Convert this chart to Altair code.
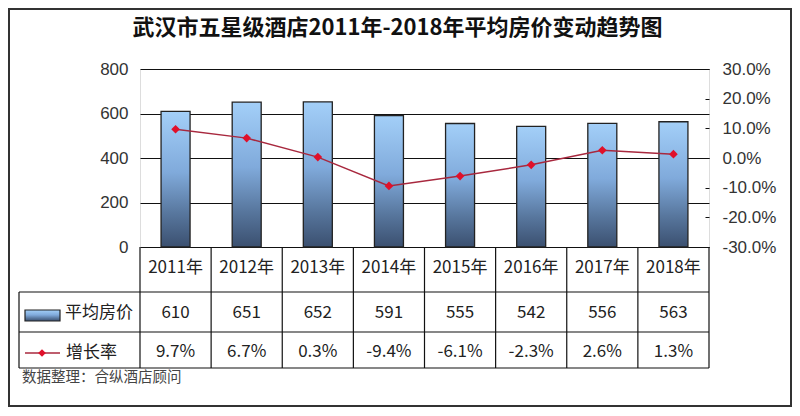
import altair as alt
import pandas as pd

years = ["2011年", "2012年", "2013年", "2014年", "2015年", "2016年", "2017年", "2018年"]
prices = [610, 651, 652, 591, 555, 542, 556, 563]
rates = [0.097, 0.067, 0.003, -0.094, -0.061, -0.023, 0.026, 0.013]
price_ticks = [0, 200, 400, 600, 800]
rate_ticks = [-0.3, -0.2, -0.1, 0.0, 0.1, 0.2, 0.3]
title_text = "武汉市五星级酒店2011年-2018年平均房价变动趋势图"
source_text = "数据整理：合纵酒店顾问"
legend_price = "平均房价"
legend_rate = "增长率"

df = pd.DataFrame({"year": years, "price": prices, "rate": rates})
one = pd.DataFrame({"k": [0]})

W, H = 569, 178
FONT_CJK = "Noto Sans CJK SC"
FONT_NUM = "Liberation Sans"
LINE_COLOR = "#a8283e"
PT_COLOR = "#e0102a"
GRID = "#111111"
MINUS_FIX = "replace(datum.label, '\u2212', '-')"

grad = alt.Gradient(
    gradient="linear",
    stops=[
        alt.GradientStop(color="#a3cff8", offset=0),
        alt.GradientStop(color="#80aadb", offset=0.45),
        alt.GradientStop(color="#58779e", offset=0.75),
        alt.GradientStop(color="#3b5070", offset=1),
    ],
    x1=0, x2=0, y1=0, y2=1,
)

xenc = alt.X("year:N", sort=years,
             scale=alt.Scale(paddingInner=0, paddingOuter=0), axis=None)
base = alt.Chart(df)

bars = base.mark_bar(fill=grad, stroke="#222222", strokeWidth=1.3, size=29).encode(
    x=xenc,
    y=alt.Y("price:Q", scale=alt.Scale(domain=[0, 800], nice=False),
            axis=alt.Axis(values=price_ticks, grid=True, gridColor=GRID, gridWidth=1,
                          domain=False, ticks=False, labelPadding=12,
                          labelFontSize=17, labelFont=FONT_NUM, labelColor="#333333",
                          title=None)),
)

line = base.mark_line(
    color=LINE_COLOR, strokeWidth=1.5,
    point=alt.OverlayMarkDef(shape="diamond", filled=True, color=PT_COLOR, size=75, opacity=1),
).encode(
    x=alt.X("year:N", sort=years),
    y=alt.Y("rate:Q", scale=alt.Scale(domain=[-0.3, 0.3], nice=False),
            axis=alt.Axis(orient="right", values=rate_ticks, format=".1%", grid=False,
                          labelExpr=MINUS_FIX,
                          domain=False, ticks=True, tickSize=4, tickColor=GRID,
                          offset=-4, labelPadding=13, labelFontSize=17,
                          labelFont=FONT_NUM, labelColor="#333333", title=None)),
)

# table column lines at band edges
vlines = base.mark_rule(color=GRID, strokeWidth=1.2).encode(
    x=alt.X("year:N", sort=years, bandPosition=0),
    y=alt.value(H), y2=alt.value(299),
)
vright = alt.Chart(one).mark_rule(color=GRID, strokeWidth=1.2).encode(
    x=alt.value(W), y=alt.value(H), y2=alt.value(299))
vleft = alt.Chart(one).mark_rule(color=GRID, strokeWidth=1.2).encode(
    x=alt.value(-121), y=alt.value(223), y2=alt.value(299))
hl1 = alt.Chart(one).mark_rule(color=GRID, strokeWidth=1.2).encode(
    x=alt.value(-121), x2=alt.value(W), y=alt.value(223))
hl2 = alt.Chart(one).mark_rule(color=GRID, strokeWidth=1.2).encode(
    x=alt.value(-121), x2=alt.value(W), y=alt.value(263))
hl3 = alt.Chart(one).mark_rule(color=GRID, strokeWidth=1.2).encode(
    x=alt.value(-121), x2=alt.value(W), y=alt.value(299))

txt_kw = dict(font=FONT_CJK, fontSize=17, color="#222222", baseline="middle", align="center")
t_year = base.mark_text(**txt_kw).encode(
    x=alt.X("year:N", sort=years), y=alt.value(199), text="year:N")
t_price = base.mark_text(**txt_kw).encode(
    x=alt.X("year:N", sort=years), y=alt.value(244), text="price:Q")
t_rate = base.transform_calculate(
    rate_label="replace(format(datum.rate, '.1%'), '\u2212', '-')"
).mark_text(**txt_kw).encode(
    x=alt.X("year:N", sort=years), y=alt.value(283), text="rate_label:N")

leg_kw = dict(font=FONT_CJK, fontSize=17, color="#222222", baseline="middle", align="left")
leg_t1 = alt.Chart(one).mark_text(**leg_kw).encode(
    x=alt.value(-75), y=alt.value(244), text=alt.value(legend_price))
leg_t2 = alt.Chart(one).mark_text(**leg_kw).encode(
    x=alt.value(-74), y=alt.value(284), text=alt.value(legend_rate))
leg_box = alt.Chart(one).mark_rect(fill=grad, stroke="#222222", strokeWidth=1.2).encode(
    x=alt.value(-115), x2=alt.value(-80), y=alt.value(241), y2=alt.value(252))
leg_line = alt.Chart(one).mark_rule(color=LINE_COLOR, strokeWidth=1.5).encode(
    x=alt.value(-115), x2=alt.value(-80), y=alt.value(284))
leg_pt = alt.Chart(one).mark_point(shape="diamond", filled=True, color=PT_COLOR,
                                   size=60, opacity=1).encode(
    x=alt.value(-98), y=alt.value(284))

title = alt.Chart(one).mark_text(font=FONT_CJK, fontSize=22, fontWeight="bold",
                                 color="#111111", baseline="middle", align="center").encode(
    x=alt.value(257.5), y=alt.value(-41), text=alt.value(title_text))
source = alt.Chart(one).mark_text(font=FONT_CJK, fontSize=14.5, color="#444444",
                                  baseline="middle", align="left").encode(
    x=alt.value(-118), y=alt.value(309), text=alt.value(source_text))
frame = alt.Chart(one).mark_rect(fillOpacity=0, stroke="#333333", strokeWidth=2).encode(
    x=alt.value(-131), x2=alt.value(651), y=alt.value(-60), y2=alt.value(337))

chart = alt.layer(
    frame, bars, line, vlines, vright, vleft, hl1, hl2, hl3,
    t_year, t_price, t_rate, leg_box, leg_line, leg_pt, leg_t1, leg_t2,
    title, source,
).resolve_scale(y="independent").properties(
    width=W, height=H,
    autosize=alt.AutoSizeParams(type="none"),
    padding={"left": 132, "top": 61, "right": 83, "bottom": 161},
).configure_view(stroke=GRID, strokeWidth=1.2).configure(background="white")

chart.save("out.html", embed_options={"renderer": "svg", "actions": False})
